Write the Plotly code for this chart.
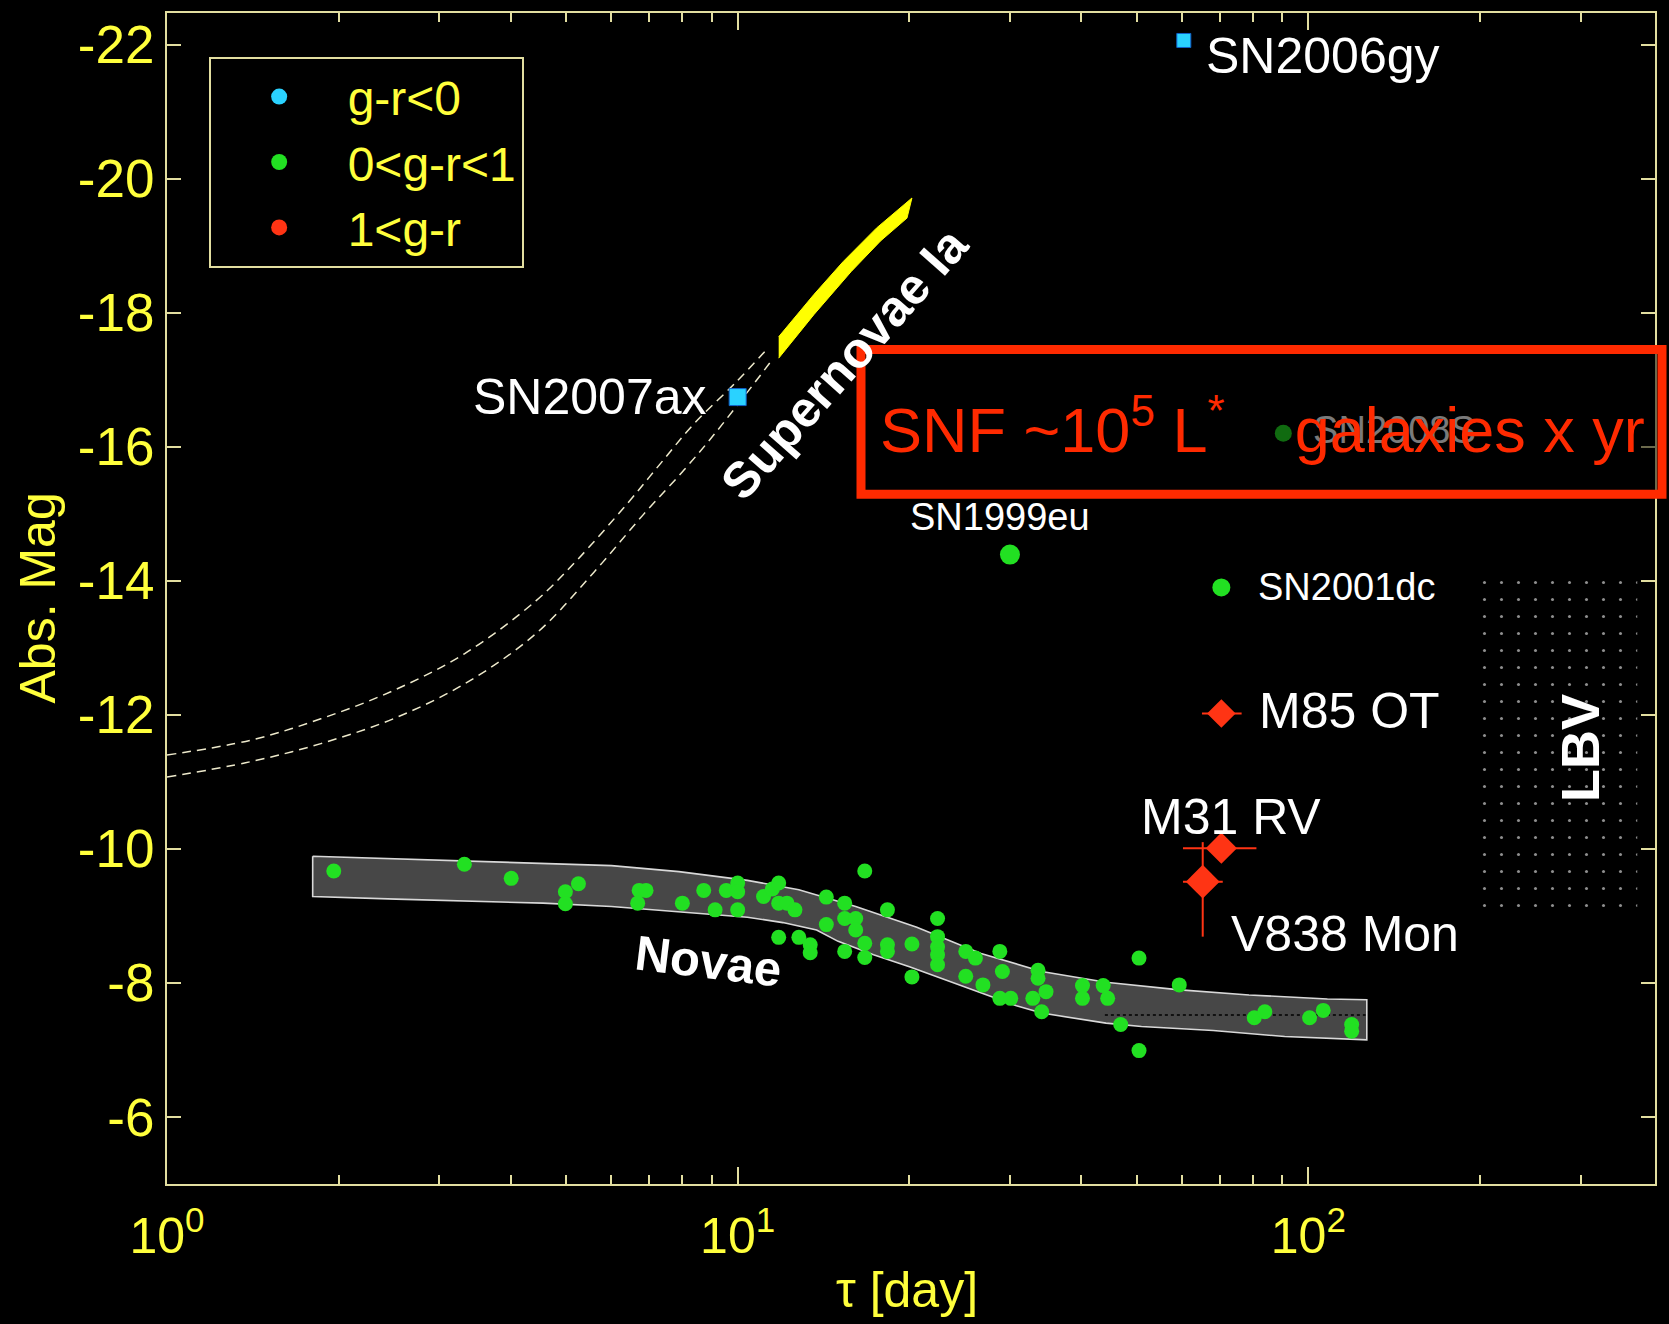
import numpy as np
import plotly.graph_objects as go

# ---------------- data ----------------
# Novae: decline time tau [day] and absolute magnitude
nova_tau = [1.96, 3.32, 4.01, 4.99, 5.26, 4.99, 6.72, 6.91, 6.68, 8.00, 8.72, 9.55, 9.13,
            10.0, 10.0, 10.0, 11.1, 11.5, 11.8, 11.8, 12.2, 12.6, 11.8, 12.8, 13.4, 13.4,
            14.3, 14.3, 16.7, 15.4, 15.4, 16.1, 16.1, 16.7, 15.4, 16.7, 18.3, 18.3, 18.3,
            20.2, 20.2, 22.4, 22.4, 22.4, 22.4, 22.4, 25.1, 26.1, 25.1, 26.9, 28.8, 29.1,
            28.8, 30.1, 33.6, 33.6, 34.7, 32.9, 34.1, 40.2, 40.2, 43.7, 44.5, 50.5, 46.9,
            50.5, 59.4, 80.4, 83.9, 100.5, 106.2, 119.1, 119.1]
nova_mag = [-9.67, -9.77, -9.56, -9.36, -9.48, -9.18, -9.38, -9.38, -9.19, -9.19, -9.38, -9.38, -9.09,
            -9.49, -9.36, -9.09, -9.29, -9.40, -9.49, -9.19, -9.19, -9.09, -8.68, -8.68, -8.57, -8.45,
            -9.28, -8.87, -9.67, -9.19, -8.96, -8.96, -8.79, -8.59, -8.47, -8.38, -9.09, -8.57, -8.47,
            -8.58, -8.09, -8.96, -8.69, -8.54, -8.42, -8.27, -8.47, -8.37, -8.10, -7.97, -8.47, -8.17,
            -7.77, -7.77, -8.19, -8.07, -7.87, -7.77, -7.57, -7.96, -7.77, -7.96, -7.77, -8.37, -7.38,
            -6.99, -7.97, -7.48, -7.57, -7.48, -7.59, -7.38, -7.28]

# Novae MMRD band
band_up_tau = [1.80, 2.52, 3.26, 4.56, 6.01, 7.89, 10.4, 12.8, 16.1, 20.6, 26.7, 34.1, 44.2, 58.9, 78.7, 108.0, 126.6]
band_up_mag = [-9.89, -9.85, -9.82, -9.78, -9.75, -9.66, -9.53, -9.39, -9.14, -8.83, -8.44, -8.17, -8.01, -7.90, -7.82, -7.76, -7.75]
band_lo_tau = [1.80, 2.52, 3.26, 4.56, 6.01, 7.89, 10.4, 12.0, 13.75, 15.0, 17.3, 20.0, 23.1, 26.7, 30.8, 34.1, 38.2, 44.2, 51.0, 68.1, 90.9, 126.6]
band_lo_mag = [-9.29, -9.25, -9.22, -9.19, -9.14, -9.06, -8.98, -8.90, -8.79, -8.62, -8.42, -8.24, -8.05, -7.85, -7.66, -7.55, -7.48, -7.40, -7.35, -7.29, -7.20, -7.15]
band_mid_tau = [44.0, 126.0]
band_mid_mag = [-7.52, -7.52]

# Supernovae Ia: dashed envelope and yellow band
snia_up_tau = [1.0, 1.40, 1.86, 2.49, 3.32, 4.43, 5.22, 6.39, 7.31, 8.36, 9.9, 11.3]
snia_up_mag = [-11.40, -11.62, -11.94, -12.36, -12.91, -13.70, -14.30, -15.14, -15.74, -16.33, -16.95, -17.47]
snia_lo_tau = [1.0, 1.40, 1.86, 2.49, 3.32, 4.43, 5.59, 6.84, 8.03, 9.19, 11.55]
snia_lo_mag = [-11.07, -11.30, -11.57, -11.94, -12.46, -13.21, -14.12, -14.99, -15.64, -16.23, -17.32]
snia_band_tau = [11.8, 13.6, 15.3, 17.5, 20.2, 19.8, 17.8, 15.8, 13.6, 11.8]
snia_band_mag = [-17.64, -18.27, -18.76, -19.26, -19.71, -19.41, -19.07, -18.61, -17.97, -17.32]

# LBV region
lbv_tau = [200.0, 377.0]
lbv_mag = [-14.0, -9.0]

# individual transients
blue_names = ["SN2006gy", "SN2007ax"]
blue_tau = [60.5, 10.0]
blue_mag = [-22.06, -16.74]

green_names = ["SN1999eu", "SN2001dc", "SN2008S"]
green_tau = [30.0, 70.4, 90.4]
green_mag = [-14.39, -13.90, -16.20]

red_names = ["M85 OT", "M31 RV", "V838 Mon"]
red_tau = [70.4, 70.4, 65.3]
red_mag = [-12.02, -10.01, -9.51]
red_tau_err_plus = [6.0, 10.7, 5.5]
red_tau_err_minus = [5.3, 10.1, 5.0]
red_mag_err_plus = [0.0, 0.0, 0.82]
red_mag_err_minus = [0.0, 0.0, 0.59]

legend_names = ["g-r<0", "0<g-r<1", "1<g-r"]

y_ticks = [-22, -20, -18, -16, -14, -12, -10, -8, -6]
x_ticks = [1, 10, 100]
x_ticktext = ["10<sup>0</sup>", "10<sup>1</sup>", "10<sup>2</sup>"]
x_minor = [2, 3, 4, 5, 6, 7, 8, 9, 20, 30, 40, 50, 60, 70, 80, 90, 200, 300]

# ---------------- style ----------------
FRAME = "#e2dea0"
YEL = "#ffff3c"
CYAN = "#2ad2ff"
GREEN = "#22e022"
RED = "#ff3414"
BOXRED = "#ff2a00"
FONT = "Liberation Sans, Arial, Helvetica, sans-serif"

fig = go.Figure()

# LBV dotted region
fig.add_trace(go.Scatter(
    x=[lbv_tau[0], lbv_tau[1], lbv_tau[1], lbv_tau[0], lbv_tau[0]],
    y=[lbv_mag[0], lbv_mag[0], lbv_mag[1], lbv_mag[1], lbv_mag[0]],
    mode="lines", line=dict(width=0), fill="toself", fillcolor="rgba(0,0,0,0)",
    fillpattern=dict(shape=".", size=17, solidity=0.025, fgcolor="#a8a8a8",
                     fgopacity=0.85, bgcolor="rgba(0,0,0,0)"),
    showlegend=False, hoverinfo="skip"))

# Novae band
fig.add_trace(go.Scatter(
    x=band_up_tau + band_lo_tau[::-1] + band_up_tau[:1],
    y=band_up_mag + band_lo_mag[::-1] + band_up_mag[:1],
    mode="lines", fill="toself", fillcolor="#474747",
    line=dict(color="#d8d8d8", width=1.6), showlegend=False, hoverinfo="skip"))
fig.add_trace(go.Scatter(
    x=band_mid_tau, y=band_mid_mag, mode="lines",
    line=dict(color="#111111", width=2, dash="dot"), showlegend=False, hoverinfo="skip"))

# SN Ia envelope
for tx, my in [(snia_up_tau, snia_up_mag), (snia_lo_tau, snia_lo_mag)]:
    fig.add_trace(go.Scatter(
        x=tx, y=my, mode="lines",
        line=dict(color="#eeeacc", width=1.5, dash="9px,6px", shape="spline", smoothing=1.0),
        showlegend=False, hoverinfo="skip"))
fig.add_trace(go.Scatter(
    x=snia_band_tau, y=snia_band_mag, mode="lines", fill="toself", fillcolor="#ffff00",
    line=dict(color="#ffff00", width=1), showlegend=False, hoverinfo="skip"))

# Novae points + green transients (0<g-r<1)
fig.add_trace(go.Scatter(
    x=nova_tau + green_tau[:2], y=nova_mag + green_mag[:2], mode="markers",
    marker=dict(color=GREEN, size=[15] * len(nova_tau) + [20, 18], symbol="circle",
                opacity=1, line=dict(width=0)),
    showlegend=False))
fig.add_trace(go.Scatter(
    x=green_tau[2:], y=green_mag[2:], mode="markers+text",
    text=["\u00a0\u2009" + n for n in green_names[2:]],
    textposition="middle right", textfont=dict(size=38, color="white", family=FONT),
    marker=dict(color=GREEN, size=17, opacity=1, line=dict(width=0)), showlegend=False))

# blue transients (g-r<0)
fig.add_trace(go.Scatter(
    x=blue_tau, y=blue_mag, mode="markers",
    marker=dict(color=CYAN, size=[14, 17], symbol="square", opacity=1,
                line=dict(color="#1060c8", width=1)),
    showlegend=False))

# red transients (1<g-r) with error bars
fig.add_trace(go.Scatter(
    x=red_tau, y=red_mag, mode="markers",
    marker=dict(color=RED, size=[22, 24, 26], symbol="diamond", opacity=1, line=dict(width=0)),
    error_x=dict(type="data", symmetric=False, array=red_tau_err_plus,
                 arrayminus=red_tau_err_minus, color=RED, thickness=2, width=0),
    error_y=dict(type="data", symmetric=False, array=red_mag_err_plus,
                 arrayminus=red_mag_err_minus, color=RED, thickness=2, width=0),
    showlegend=False))

# legend entries
for name, col in zip(legend_names, [CYAN, GREEN, RED]):
    fig.add_trace(go.Scatter(x=[None], y=[None], mode="markers", name=name,
                             marker=dict(color=col, size=18, symbol="circle")))

# ---------------- annotations ----------------
ann = []
def lab(name, tau, mag, dx, dy, size, anchor="left", color="white"):
    ann.append(dict(x=np.log10(tau), y=mag, xref="x", yref="y", text=name, showarrow=False,
                    xanchor=anchor, yanchor="middle", xshift=dx, yshift=dy,
                    font=dict(size=size, color=color, family=FONT)))

lab(blue_names[0], blue_tau[0], blue_mag[0], 20, -16, 50)
lab(blue_names[1], blue_tau[1], blue_mag[1], -29, 0, 50, anchor="right")
lab(green_names[0], green_tau[0], green_mag[0], -10, 38, 38, anchor="center")
lab(green_names[1], green_tau[1], green_mag[1], 35, 0, 38)
lab(red_names[0], red_tau[0], red_mag[0], 36, 2, 50)
lab(red_names[1], red_tau[1], red_mag[1], -82, 31, 50)
lab(red_names[2], red_tau[2], red_mag[2], 26, -52, 50)

ann.append(dict(x=0.948, y=-8.33, text="<b>Novae</b>", showarrow=False,
                textangle=7, font=dict(size=49, color="white", family=FONT)))
ann.append(dict(x=1.188, y=-17.25, text="<b>Supernovae Ia</b>", showarrow=False,
                textangle=-48.5, font=dict(size=50, color="white", family=FONT)))
ann.append(dict(x=2.475, y=-11.51, text="<b>LBV</b>", showarrow=False,
                textangle=-90, font=dict(size=54, color="white", family=FONT)))

# axis titles
ann.append(dict(x=(37 - 167) / 1488.0, y=0.5, xref="paper", yref="paper",
                xanchor="center", yanchor="middle",
                text="Abs. Mag", textangle=-90, showarrow=False,
                font=dict(size=50, color=YEL, family=FONT)))
ann.append(dict(x=(907 - 167) / 1488.0, y=(1184 - 1290) / 1173.0, xref="paper", yref="paper",
                xanchor="center", yanchor="middle", text="τ [day]", showarrow=False,
                font=dict(size=50, color=YEL, family=FONT)))

# SNF overlay text
ann.append(dict(x=(878 - 167) / 1488.0, y=(1184 - 424) / 1173.0, xref="paper", yref="paper",
                xanchor="left", yanchor="middle",
                text="SNF ~10<sup>5</sup> L<sup>*</sup>\u00a0\u00a0\u00a0 galaxies x yr", showarrow=False,
                font=dict(size=63, color=BOXRED, family=FONT)))

shapes = [dict(type="rect", xref="paper", yref="paper",
               x0=(861 - 167) / 1488.0, x1=(1662 - 167) / 1488.0,
               y0=(1184 - 493) / 1173.0, y1=(1184 - 348) / 1173.0,
               line=dict(color=BOXRED, width=9), fillcolor="rgba(0,0,0,0.52)", layer="above")]

fig.update_layout(
    width=1669, height=1324,
    margin=dict(l=167, r=14, t=11, b=140, pad=0),
    paper_bgcolor="black", plot_bgcolor="black",
    font=dict(family=FONT, color=YEL, size=50),
    annotations=ann, shapes=shapes,
    legend=dict(x=0.028, y=0.9625, xanchor="left", yanchor="top", bgcolor="black",
                bordercolor=FRAME, borderwidth=2, font=dict(size=48, color=YEL, family=FONT),
                itemwidth=127, tracegroupgap=0),
    xaxis=dict(type="log", range=[0, np.log10(405)], tickvals=x_ticks, ticktext=x_ticktext,
               ticks="inside", ticklen=17, tickwidth=2, tickcolor=FRAME,
               minor=dict(tickvals=x_minor, ticks="inside", ticklen=9, tickwidth=1.5, tickcolor=FRAME),
               showline=True, linecolor=FRAME, linewidth=2, mirror="ticks",
               showgrid=False, zeroline=False, ticklabelstandoff=7,
               tickfont=dict(size=50, color=YEL, family=FONT)),
    yaxis=dict(range=[-5.0, -22.47], tickvals=y_ticks, ticktext=[str(v) for v in y_ticks],
               ticks="inside", ticklen=14, tickwidth=2, tickcolor=FRAME,
               showline=True, linecolor=FRAME, linewidth=2, mirror="ticks",
               showgrid=False, zeroline=False, ticklabelstandoff=0,
               tickfont=dict(size=53, color=YEL, family=FONT)),
)

fig.write_html("out.html", config={"displayModeBar": False},
               post_script="document.body.style.margin='0px';"
                           "document.body.style.backgroundColor='black';")
